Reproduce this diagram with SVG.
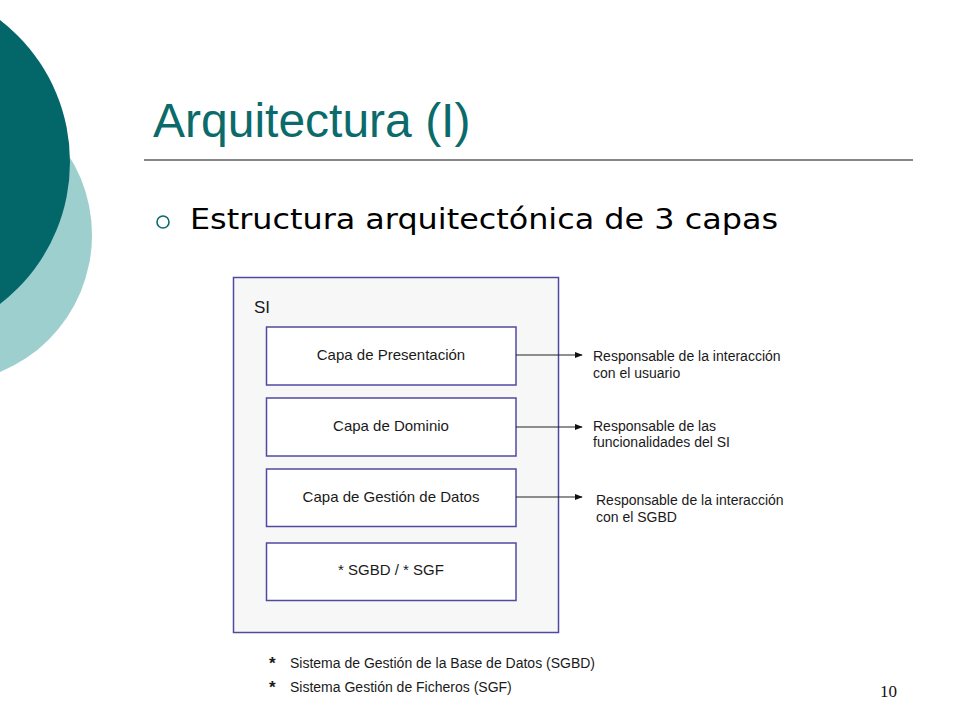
<svg xmlns="http://www.w3.org/2000/svg" width="960" height="720" viewBox="0 0 960 720">
<defs>
<style>
.box{fill:#ffffff;stroke:#4f4aa0;stroke-width:1.5}
.lbl{font-family:"Liberation Sans",Arial,sans-serif;font-size:15px;fill:#1a1a1a;text-anchor:middle}
.note{font-family:"Liberation Sans",Arial,sans-serif;font-size:14px;fill:#1a1a1a}
.star{font-family:"Liberation Sans",Arial,sans-serif;font-size:17px;font-weight:bold;fill:#1a1a1a}
.conn{stroke:#222;stroke-width:1.2;fill:none;marker-end:url(#ah)}
</style>
<marker id="ah" viewBox="0 0 10 10" refX="9" refY="5" markerWidth="8" markerHeight="8" markerUnits="userSpaceOnUse" orient="auto">
<path d="M0,1 L10,5 L0,9 z" fill="#111"/>
</marker>
</defs>
<rect width="960" height="720" fill="#ffffff"/>
<g id="decor">
<circle cx="-56" cy="235" r="148" fill="#9ecfcf"/>
<circle cx="-109" cy="162" r="179" fill="#03676a"/>
</g>
<g id="title">
<text x="153" y="137" font-family="Liberation Sans,Arial,sans-serif" font-size="48" fill="#0b6b6b">Arquitectura (I)</text>
<line x1="144" y1="160" x2="913" y2="160" stroke="#111" stroke-width="1.2"/>
</g>
<g id="bullet">
<circle cx="163" cy="222" r="6" fill="none" stroke="#0b6b6b" stroke-width="1.6"/>
<text x="190" y="229" font-family="DejaVu Sans,Verdana,sans-serif" font-size="28" fill="#000" textLength="588" lengthAdjust="spacingAndGlyphs">Estructura arquitectónica de 3 capas</text>
</g>
<g id="si">
<rect x="233.5" y="277.5" width="325" height="355" fill="#f7f7f7" stroke="#4f4aa0" stroke-width="1.5"/>
<text x="254" y="313" font-family="Liberation Sans,Arial,sans-serif" font-size="17" fill="#1a1a1a">SI</text>
</g>
<g id="presentacion">
<rect class="box" x="266.5" y="327" width="249.5" height="58"/>
<text class="lbl" x="391" y="360">Capa de Presentación</text>
</g>
<g id="dominio">
<rect class="box" x="266.5" y="398" width="249.5" height="58"/>
<text class="lbl" x="391" y="431">Capa de Dominio</text>
</g>
<g id="gestion">
<rect class="box" x="266.5" y="469" width="249.5" height="57.5"/>
<text class="lbl" x="391" y="502">Capa de Gestión de Datos</text>
</g>
<g id="sgbd">
<rect class="box" x="266.5" y="543" width="249.5" height="57.5"/>
<text class="lbl" x="391" y="575">* SGBD / * SGF</text>
</g>
<g id="connectors">
<line class="conn" x1="516" y1="355" x2="582" y2="355"/>
<line class="conn" x1="516" y1="427" x2="582" y2="427"/>
<line class="conn" x1="516" y1="497" x2="582" y2="497"/>
</g>
<g id="resp1">
<text class="note" x="593" y="361">Responsable de la interacción</text>
<text class="note" x="593" y="378">con el usuario</text>
</g>
<g id="resp2">
<text class="note" x="593" y="431">Responsable de las</text>
<text class="note" x="593" y="447">funcionalidades del SI</text>
</g>
<g id="resp3">
<text class="note" x="596" y="505">Responsable de la interacción</text>
<text class="note" x="596" y="522">con el SGBD</text>
</g>
<g id="footnotes">
<text class="star" x="269" y="669">*</text>
<text class="note" x="290" y="668">Sistema de Gestión de la Base de Datos (SGBD)</text>
<text class="star" x="269" y="693">*</text>
<text class="note" x="290" y="692">Sistema Gestión de Ficheros (SGF)</text>
</g>
<text x="880" y="697" font-family="Liberation Serif,Times New Roman,serif" font-size="17" fill="#111">10</text>
</svg>
